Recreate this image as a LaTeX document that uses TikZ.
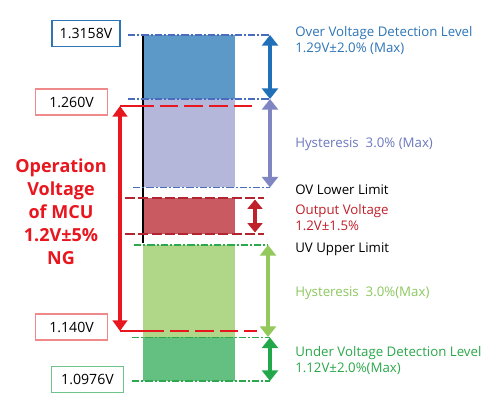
\documentclass[tikz,border=0pt]{standalone}
\usepackage{fontspec}
\setmainfont{Open Sans}
\usetikzlibrary{arrows.meta}
\definecolor{rBlue}{HTML}{5C98C8}
\definecolor{rLav}{HTML}{B4B6DA}
\definecolor{rRed}{HTML}{C95A62}
\definecolor{rLG}{HTML}{B0D788}
\definecolor{rG}{HTML}{63C081}
\definecolor{lBlue}{HTML}{4A6CBE}
\definecolor{aBlue}{HTML}{1F70B8}
\definecolor{aLav}{HTML}{7F86C2}
\definecolor{lDRed}{HTML}{B22530}
\definecolor{aDRed}{HTML}{C0202A}
\definecolor{lGreen}{HTML}{2EA84F}
\definecolor{aLG}{HTML}{92C95A}
\definecolor{aG}{HTML}{22A84A}
\definecolor{bigRed}{HTML}{E8161E}
\definecolor{tBlue}{HTML}{2E75B6}
\definecolor{tLav}{HTML}{6C78BE}
\definecolor{tLG}{HTML}{8DC85E}
\definecolor{tG}{HTML}{2BA84A}
\definecolor{bRed}{HTML}{F08A8A}
\definecolor{bGreen}{HTML}{6CC48A}
\begin{document}
\begin{tikzpicture}[x=0.75pt,y=-0.75pt,
  lbl/.style={font=\fontsize{9.95}{11}\selectfont, anchor=base west, inner sep=0pt},
  valbox/.style={draw, line width=0.8pt, minimum width=51pt, minimum height=19.5pt, inner sep=0pt, font=\fontsize{10.6}{11}\selectfont, text=black},
  dashdot/.style={line width=1.4pt, dash pattern=on 5.5pt off 1.5pt on 1.5pt off 1.5pt},
  reddash/.style={line width=2.2pt, dash pattern=on 14pt off 4.5pt},
  dreddash/.style={line width=1.9pt, dash pattern=on 7.5pt off 2.5pt},
  dbl/.style={line width=3pt, {Triangle[width=12pt,length=8pt]}-{Triangle[width=12pt,length=8pt]}},
  dblsmall/.style={line width=2.6pt, {Triangle[width=11pt,length=7pt]}-{Triangle[width=11pt,length=7pt]}}]
\useasboundingbox[fill=white] (0,0) rectangle (496,402);

% coloured bands
\fill[rBlue] (143,35) rectangle (235,99);
\fill[rLav] (143,99) rectangle (235,187);
\fill[rRed] (143,198) rectangle (235,234);
\fill[rLG] (143,245) rectangle (235,337);
\fill[rG] (143,337) rectangle (235,381);
\draw[black, line width=0.9pt] (143,36) -- (143,243);

% level coordinates
\coordinate (t1a) at (128,35);  \coordinate (t1b) at (270,35);
\coordinate (t2a) at (128,99);  \coordinate (t2b) at (270,99);
\coordinate (r1a) at (120,106); \coordinate (r1m) at (143,106); \coordinate (r1b) at (257,106);
\coordinate (t3a) at (133,187.5); \coordinate (t3b) at (270,187.5);
\coordinate (d1a) at (125,198); \coordinate (d1b) at (264,198);
\coordinate (d2a) at (125,234); \coordinate (d2b) at (264,234);
\coordinate (g1a) at (134,245); \coordinate (g1b) at (268,245);
\coordinate (r2a) at (120,331); \coordinate (r2m) at (143,331); \coordinate (r2b) at (257,331);
\coordinate (g2a) at (132,337.5); \coordinate (g2b) at (270,337.5);
\coordinate (g3a) at (132,381); \coordinate (g3b) at (270,381);

% level lines
\draw[dashdot, lBlue] (t1a) -- (t1b);
\draw[dashdot, lBlue] (t2a) -- (t2b);
\draw[dashdot, lBlue] (t3a) -- (t3b);
\draw[dreddash, lDRed] (d1a) -- (d1b);
\draw[dreddash, lDRed] (d2a) -- (d2b);
\draw[dashdot, lGreen] (g1a) -- (g1b);
\draw[dashdot, lGreen] (g2a) -- (g2b);
\draw[dashdot, lGreen] (g3a) -- (g3b);
\draw[bigRed, line width=2.2pt] (r1a) -- (r1m);
\draw[reddash, bigRed, dash phase=6pt] (r1m) -- (r1b);
\draw[bigRed, line width=2.2pt] (r2a) -- ([xshift=8pt]r2m);
\draw[reddash, bigRed, dash phase=6pt] ([xshift=8pt]r2m) -- (r2b);

% arrows
\draw[dbl, aBlue] (t1b) -- (t2b);
\draw[dbl, aLav] (t2b) -- (t3b);
\draw[dblsmall, aDRed] (255,199.5) -- (255,232.5);
\draw[dbl, aLG] (g1b) -- ([yshift=-4.5pt]r2b -| g1b);
\draw[dbl, aG] (g2b) -- (g3b);
\draw[bigRed, line width=3.6pt, {Triangle[width=11pt,length=8pt]}-{Triangle[width=11pt,length=8pt]}] (r1a) -- (r2a);

% value boxes
\node[valbox, draw=tBlue] (v1) at (86,33.5) {1.3158V};
\node[valbox, draw=bRed, minimum width=54.5pt] (v2) at (71.5,102) {1.260V};
\node[valbox, draw=bRed, minimum width=54.5pt] (v3) at (71.5,327) {1.140V};
\node[valbox, draw=bGreen, minimum width=54.5pt] (v4) at (87.5,379.5) {1.0976V};

% left label
\node[text=bigRed, align=center, font=\fontsize{13.5}{17.25}\selectfont\bfseries] (op) at (61,212) {Operation\\Voltage\\of MCU\\1.2V±5\%\\NG};

% right labels
\node[lbl, text=tBlue] (o1) at (295,37) {Over Voltage Detection Level};
\node[lbl, text=tBlue] (o2) at (295,53) {1.29V±2.0\% (Max)};
\node[lbl, text=tLav] (h1) at (295,148) {Hysteresis\ \ 3.0\% (Max)};
\node[lbl, text=black] (ov) at (295,195) {OV Lower Limit};
\node[lbl, text=aDRed] (p1) at (295,215) {Output Voltage};
\node[lbl, text=aDRed] (p2) at (295,230.5) {1.2V±1.5\%};
\node[lbl, text=black] (uv) at (295,253) {UV Upper Limit};
\node[lbl, text=tLG] (h2) at (295,297) {Hysteresis\ \ 3.0\%(Max)};
\node[lbl, text=tG] (u1) at (295,357) {Under Voltage Detection Level};
\node[lbl, text=tG] (u2) at (295,373) {1.12V±2.0\%(Max)};
\end{tikzpicture}
\end{document}
